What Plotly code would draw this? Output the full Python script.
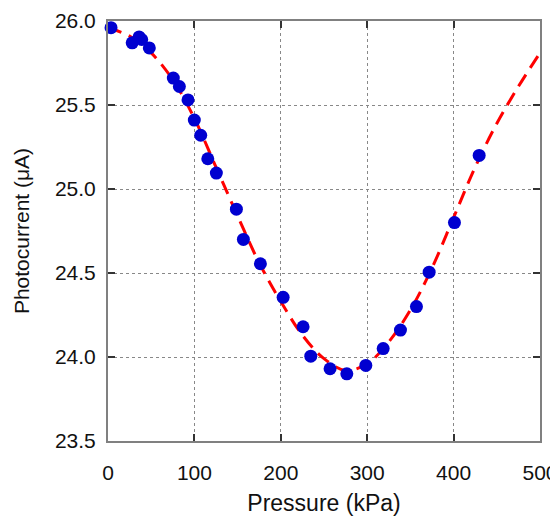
import plotly.graph_objects as go

# Measured data points
pressure_kpa = [3.5, 28, 36, 39, 47.8, 75.6, 82.6, 92.6, 99.9, 107.3, 115.5, 125.4,
                148.6, 156.7, 176.4, 202.7, 225.8, 234.7, 257, 276.4, 298.4, 318.5,
                338.5, 357, 371.7, 401, 429.6]
photocurrent_ua = [25.96, 25.87, 25.905, 25.89, 25.84, 25.66, 25.61, 25.53, 25.41, 25.32,
                   25.18, 25.095, 24.88, 24.70, 24.555, 24.355, 24.18, 24.005, 23.93, 23.90,
                   23.95, 24.05, 24.16, 24.30, 24.505, 24.80, 25.20]

# Fit curve
fit_pressure = [0, 25, 50, 75, 100, 125, 150, 175, 200, 225, 250, 275, 300, 325, 350,
                375, 400, 425, 450, 475, 500]
fit_current = [25.96, 25.91, 25.81, 25.65, 25.42, 25.13, 24.84, 24.56, 24.33, 24.13, 23.99,
               23.92, 23.96, 24.09, 24.28, 24.53, 24.83, 25.13, 25.39, 25.61, 25.81]

x_ticks = [0, 100, 200, 300, 400, 500]
y_ticks = [23.5, 24.0, 24.5, 25.0, 25.5, 26.0]
y_tick_labels = ["23.5", "24.0", "24.5", "25.0", "25.5", "26.0"]

FONT = "Liberation Sans, Arial, sans-serif"

fig = go.Figure()
fig.add_trace(go.Scatter(x=fit_pressure, y=fit_current, mode="lines",
                         line=dict(color="#ff0000", width=3, dash="14px,8px", shape="spline"),
                         showlegend=False))
fig.add_trace(go.Scatter(x=pressure_kpa, y=photocurrent_ua, mode="markers",
                         marker=dict(color="#0000d0", size=13),
                         showlegend=False, cliponaxis=False))

axis_common = dict(showline=True, linecolor="#808080", linewidth=2, mirror="allticks",
                   ticks="inside", ticklen=7, tickwidth=1.5, tickcolor="#333333",
                   showgrid=True, gridcolor="#888888", griddash="dot", gridwidth=1,
                   zeroline=False, automargin=False,
                   tickfont=dict(family=FONT, size=21, color="#111111"))

fig.update_xaxes(range=[0, 500], tickvals=x_ticks, title_text="Pressure (kPa)",
                 title_font=dict(family=FONT, size=23, color="#111111"),
                 ticklabelstandoff=12, title_standoff=20, **axis_common)
fig.update_yaxes(range=[23.5, 26.0], tickvals=y_ticks, ticktext=y_tick_labels,
                 title_font=dict(family=FONT, size=21, color="#111111"),
                 ticklabelstandoff=6, title_standoff=20,
                 title_text="Photocurrent (μA)", **axis_common)

# page body adds an 8px offset; figure sized so plot area lands where the reference has it
fig.update_layout(width=550, height=508, margin=dict(l=100, r=18, t=13, b=75),
                  plot_bgcolor="white", paper_bgcolor="white",
                  font=dict(family=FONT))

fig.write_html("out.html")
